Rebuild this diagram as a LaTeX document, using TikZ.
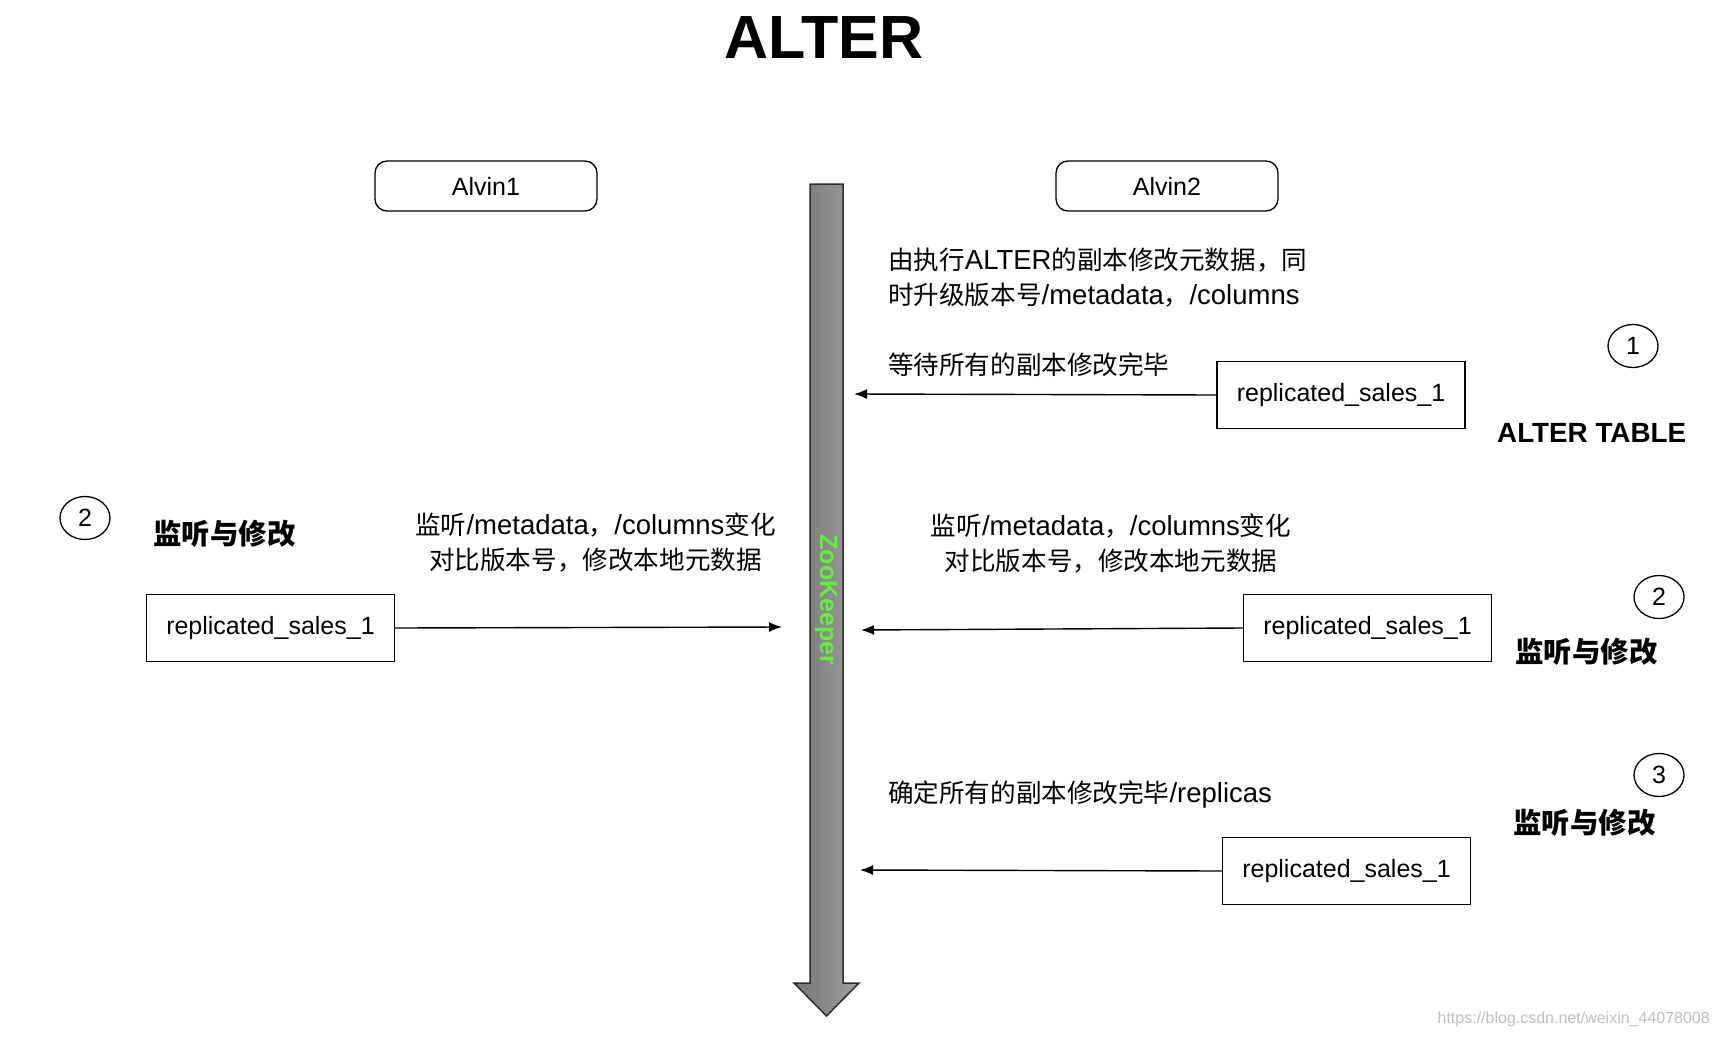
\documentclass[tikz,border=0pt]{standalone}
\usepackage{fontspec}
\setmainfont{Liberation Sans}
\newfontfamily\cjk[Scale=0.93]{Noto Sans CJK SC}
\newcommand\zhtxt[1]{{\cjk #1}}
\usetikzlibrary{arrows.meta,shapes.geometric}
\definecolor{zkgreen}{RGB}{98,240,60}
\definecolor{zkleft}{RGB}{118,118,118}
\definecolor{zkright}{RGB}{158,158,158}
\definecolor{zkline}{RGB}{45,45,45}
\begin{document}
\begin{tikzpicture}[x=1pt,y=-1pt,
  hostbox/.style={draw, line width=1.3pt, rounded corners=12pt, minimum width=222pt, minimum height=50pt, inner sep=0pt, font=\fontsize{25}{30}\selectfont},
  repbox/.style={draw, line width=1.3pt, minimum width=248pt, minimum height=67pt, inner sep=0pt, font=\fontsize{25}{30}\selectfont},
  numcirc/.style={draw, ellipse, line width=1.3pt, minimum width=50pt, minimum height=43pt, inner sep=0pt, font=\fontsize{25}{30}\selectfont},
  note/.style={inner sep=0pt, font=\fontsize{27.5}{35}\selectfont},
  boldlbl/.style={inner sep=0pt, anchor=west, font=\fontsize{30.6}{34}\selectfont\bfseries},
  conn/.style={line width=1.4pt, -{Latex[length=13pt,width=10pt]}}
]
\useasboundingbox (0,0) rectangle (1718,1036);

% title
\node[inner sep=0pt, font=\fontsize{61}{70}\selectfont\bfseries] (title) at (824,38) {ALTER};

% hosts
\node[hostbox] (alvin1) at (486,186) {Alvin1};
\node[hostbox] (alvin2) at (1167,186) {Alvin2};

% ZooKeeper timeline arrow
\draw[line width=1.5pt, draw=zkline, left color=zkleft, right color=zkright]
  (810,184) -- (843,184) -- (843,983) -- (859,983) -- (826.5,1016) -- (794,983) -- (810,983) -- cycle;
\node[rotate=-90, inner sep=0pt, text=zkgreen, font=\fontsize{25}{28}\selectfont\bfseries] (zk) at (826,600) {ZooKeeper};

\coordinate (zkA) at (854,394);
\coordinate (zkB) at (782,627);
\coordinate (zkC) at (861,630);
\coordinate (zkD) at (860,870);

% step 1
\node[note, anchor=west, align=left] (t1) at (888,277.5)
  {\zhtxt{由执行}ALTER\zhtxt{的副本修改元数据，同}\\\zhtxt{时升级版本号}/metadata\zhtxt{，}/columns};
\node[note, anchor=west] (t2) at (888,365) {\zhtxt{等待所有的副本修改完毕}};
\node[repbox] (r1) at (1341,395) {replicated\_sales\_1};
\node[numcirc] (c1) at (1633,346) {1};
\node[inner sep=0pt, anchor=west, font=\fontsize{27.8}{32}\selectfont\bfseries] (at) at (1497,433) {ALTER TABLE};
\draw[conn] (r1.west) -- (zkA);

% step 2 left
\node[numcirc] (c2l) at (85,518) {2};
\node[boldlbl] (l2l) at (153,534) {\zhtxt{监听与修改}};
\node[note, align=center] (t3) at (595.5,542.5)
  {\zhtxt{监听}/metadata\zhtxt{，}/columns\zhtxt{变化}\\\zhtxt{对比版本号，修改本地元数据}};
\node[repbox] (rl) at (270.5,628) {replicated\_sales\_1};
\draw[conn] (rl.east) -- (zkB);

% step 2 right
\node[note, align=center] (t4) at (1111,543.5)
  {\zhtxt{监听}/metadata\zhtxt{，}/columns\zhtxt{变化}\\\zhtxt{对比版本号，修改本地元数据}};
\node[repbox] (r2) at (1367.5,628) {replicated\_sales\_1};
\node[numcirc] (c2r) at (1659,597) {2};
\node[boldlbl] (l2r) at (1515,652) {\zhtxt{监听与修改}};
\draw[conn] (r2.west) -- (zkC);

% step 3
\node[note, anchor=west] (t5) at (888,794) {\zhtxt{确定所有的副本修改完毕}/replicas};
\node[repbox] (r3) at (1346.5,871) {replicated\_sales\_1};
\node[numcirc] (c3) at (1659,775) {3};
\node[boldlbl] (l3) at (1513,823) {\zhtxt{监听与修改}};
\draw[conn] (r3.west) -- (zkD);

% watermark
\node[inner sep=0pt, anchor=east, text=black!25, font=\fontsize{16}{20}\selectfont] (wm) at (1710,1019) {https://blog.csdn.net/weixin\_44078008};
\end{tikzpicture}
\end{document}
